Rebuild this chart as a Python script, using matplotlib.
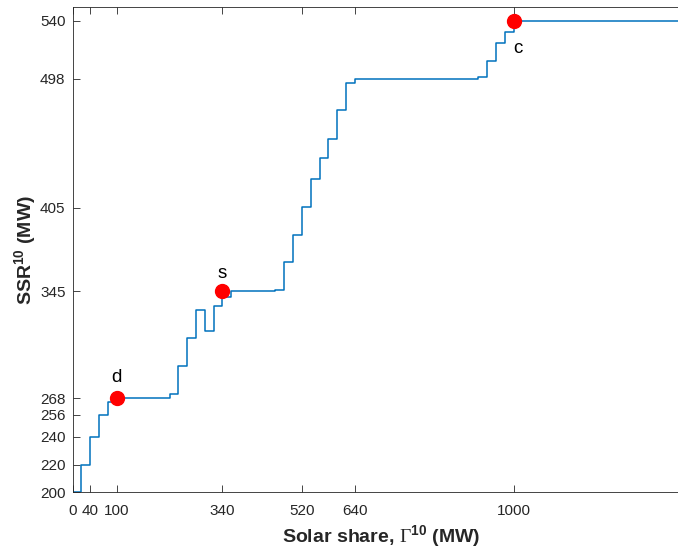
import matplotlib.pyplot as plt

plt.rcParams['font.family'] = ['Liberation Sans', 'DejaVu Sans']
plt.rcParams['mathtext.fontset'] = 'custom'
plt.rcParams['mathtext.rm'] = 'Liberation Serif'
plt.rcParams['mathtext.bf'] = 'Liberation Sans:bold'

# step curve: solar share (MW) -> SSR (MW), value holds until next point
share = [0, 20, 40, 60, 80, 100, 220, 240, 260, 280, 300, 320, 340, 360,
         460, 480, 500, 520, 540, 560, 580, 600, 620, 640,
         920, 940, 960, 980, 1000, 1400]
ssr = [200, 220, 240, 256, 265, 268, 271, 291, 311, 331.5, 316.5, 334.5, 341, 345,
       346, 366, 385.5, 405.5, 425.5, 441, 455, 475.5, 495, 498,
       499, 511, 524, 532, 540, 540]

# highlighted points
pt_names = ['d', 's', 'c']
pt_share = [100, 340, 1000]
pt_ssr = [268, 345, 540]
pt_text_y = [283, 358, 520]
pt_text_dx = [0, 0, 10]

xticks = [0, 40, 100, 340, 520, 640, 1000]
yticks = [200, 220, 240, 256, 268, 345, 405, 498, 540]

fig = plt.figure(figsize=(6.78, 5.51), dpi=100)
ax = fig.add_axes([72.5 / 678, 1 - 492.4 / 551, 1400 * 0.4411 / 678, 485.7 / 551])

ax.step(share, ssr, where='post', color='#0072BD', linewidth=1.1)
ax.plot(pt_share, pt_ssr, 'o', color='red', markersize=10, zorder=5)
for name, x, y, ty, dx in zip(pt_names, pt_share, pt_ssr, pt_text_y, pt_text_dx):
    ax.text(x + dx, ty, name, ha='center', va='center', fontsize=13.5, color='black')

ax.set_xlim(0, 1400)
ax.set_ylim(200, 550)
ax.set_xticks(xticks)
ax.set_yticks(yticks)
ax.tick_params(direction='in', top=True, right=True, length=5, width=0.6,
               colors='#262626', labelsize=11)
ax.tick_params(axis='x', pad=8)
ax.tick_params(axis='y', pad=5)
for sp in ax.spines.values():
    sp.set_color('#262626')
    sp.set_linewidth(0.6)

ax.set_xlabel(r'Solar share, $\mathrm{\Gamma}^{\mathbf{10}}$ (MW)',
              fontsize=14, fontweight='bold', color='#262626', labelpad=4)
ax.set_ylabel(r'SSR$^{\mathbf{10}}$ (MW)', fontsize=14, fontweight='bold',
              color='#262626', labelpad=1)

fig.savefig('out.png', dpi=100, facecolor='white')
